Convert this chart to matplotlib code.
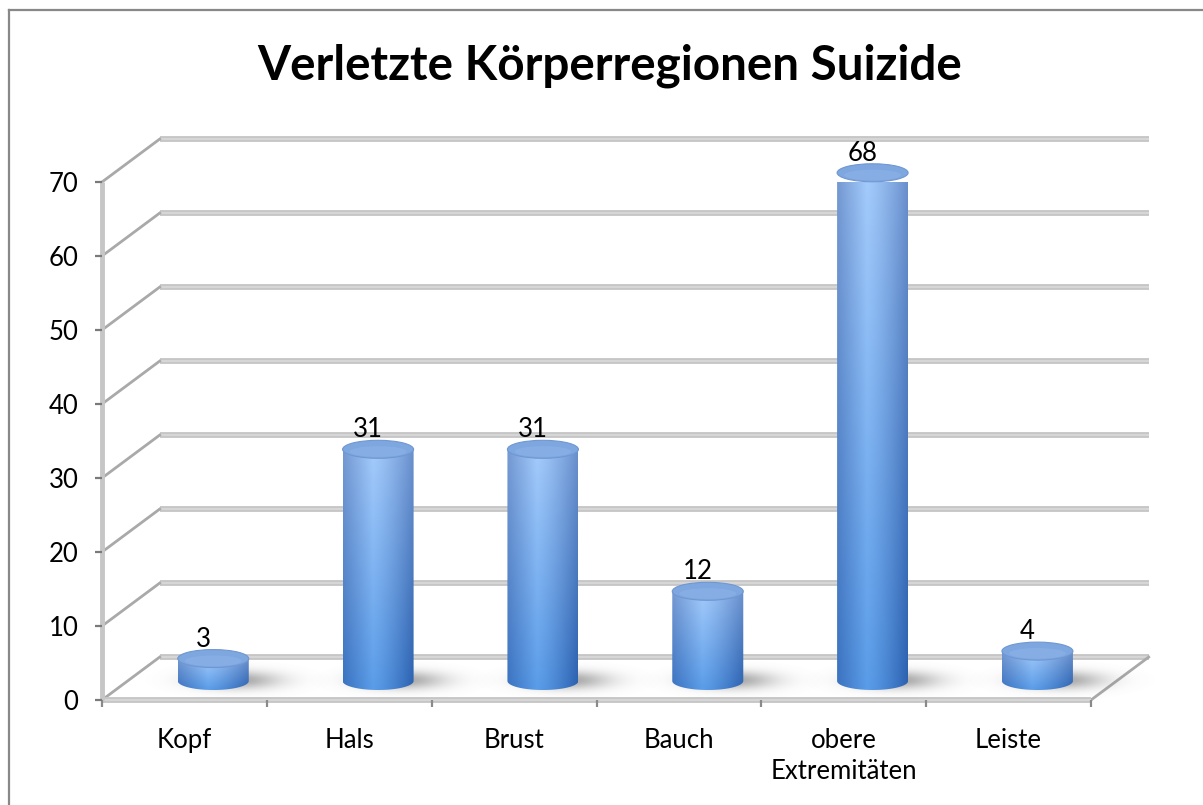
import numpy as np
import matplotlib
matplotlib.use('Agg')
import matplotlib.pyplot as plt
from matplotlib.patches import Ellipse, PathPatch
from matplotlib.path import Path
from matplotlib.lines import Line2D

# ---- data ----
categories = ['Kopf', 'Hals', 'Brust', 'Bauch', 'obere\nExtremitäten', 'Leiste']
values = [3, 31, 31, 12, 68, 4]
y_ticks = [0, 10, 20, 30, 40, 50, 60, 70]
title = 'Verletzte Körperregionen Suizide'

W, H = 1203, 805
FONT = ['Lato', 'DejaVu Sans']
plt.rcParams['font.family'] = FONT

fig = plt.figure(figsize=(W / 100, H / 100), dpi=100)
fig.patch.set_facecolor('white')
ax = fig.add_axes([102 / W, (H - 700) / H, (1091 - 102) / W, (700 - 182) / H])
ax.set_facecolor('none')
n = len(categories)
XMIN, XMAX = -0.5, n - 0.5
YMIN, YMAX = 0, 70

# 3D depth offsets (category units, value units)
DX, DY = 0.35, 5.8
PX_X = (1091 - 102) / (XMAX - XMIN)   # px per category unit
PX_Y = (700 - 182) / (YMAX - YMIN)    # px per value unit

grid_c = '#c6c6c6'
diag_c = '#a9a9a9'

# back wall grid lines and left side diagonals
for v in y_ticks:
    ax.plot([XMIN + DX, XMAX + DX], [v + DY, v + DY], color=grid_c, lw=4.2,
            solid_capstyle='butt', clip_on=False, zorder=1)
    ax.plot([XMIN + DX, XMAX + DX], [v + DY, v + DY], color='#d6d6d6', lw=1.5,
            solid_capstyle='butt', clip_on=False, zorder=1)
    ax.plot([XMIN, XMIN + DX], [v, v + DY], color=diag_c, lw=2.0,
            clip_on=False, zorder=1)
# floor right diagonal
ax.plot([XMAX, XMAX + DX], [0, DY], color=diag_c, lw=2.0, clip_on=False, zorder=1)

# front floor edge and front y-axis
ax.plot([XMIN, XMAX], [0, 0], color=grid_c, lw=4.2, solid_capstyle='butt',
        clip_on=False, zorder=1.5)
ax.plot([XMIN, XMAX], [0, 0], color='#d6d6d6', lw=1.5, solid_capstyle='butt',
        clip_on=False, zorder=1.5)
ax.plot([XMIN, XMIN], [0, YMAX], color=grid_c, lw=3.5, solid_capstyle='butt',
        clip_on=False, zorder=1.5)

# ---- cylinders ----
R = 35.5 / PX_X          # half width
EH = 9.0 / PX_Y          # ellipse semi-height
BASE = 19.0 / PX_Y       # base centre height (mid depth)
SCALE = 1.01


def hex2rgb(h):
    h = h.lstrip('#')
    return np.array([int(h[i:i + 2], 16) / 255 for i in (0, 2, 4)])


def profile(t, left, peak, right, tp=0.42):
    left, peak, right = hex2rgb(left), hex2rgb(peak), hex2rgb(right)
    out = np.empty(t.shape + (3,))
    m = t <= tp
    a = (t[m] / tp)[:, None]
    out[m] = left * (1 - a) + peak * a
    b = ((t[~m] - tp) / (1 - tp))[:, None]
    b = b ** 1.3
    out[~m] = peak * (1 - b) + right * b
    return out


nx = 120
tx = np.linspace(0, 1, nx)
top_prof = profile(tx, '#7599d2', '#a4cbfb', '#6a90cc')
bot_prof = profile(tx, '#3a72c0', '#5a9ce8', '#2b61b0')

for i, v in enumerate(values):
    cx = i + DX / 2
    top = BASE + v * SCALE

    # soft shadow on floor
    sx0, sx1 = cx - 2.4 * R, cx + 3.6 * R
    sy0, sy1 = BASE - 3.2 * EH, BASE + 3.2 * EH
    gx = np.linspace(sx0, sx1, 180)
    gy = np.linspace(sy0, sy1, 90)
    XX, YY = np.meshgrid(gx, gy)
    d = ((XX - (cx + 0.7 * R)) / (2.1 * R)) ** 2 + ((YY - (BASE + 0.1 * EH)) / (1.8 * EH)) ** 2
    alpha = 0.62 * np.exp(-3.2 * d) * (d < 1.6)
    sh = np.zeros(XX.shape + (4,))
    sh[..., :3] = 0.45
    sh[..., 3] = alpha
    ax.imshow(sh, extent=(sx0, sx1, sy0, sy1), origin='lower', aspect='auto',
              interpolation='bilinear', zorder=2, clip_on=False)

    # body gradient clipped to cylinder outline
    ny = 200
    fy = np.linspace(0, 1, ny)[:, None, None]
    img = bot_prof[None, :, :] * (1 - fy) + top_prof[None, :, :] * fy
    theta = np.linspace(np.pi, 2 * np.pi, 60)
    bx = cx + R * np.cos(theta)
    by = BASE + EH * np.sin(theta)
    verts = [(cx - R, top)] + list(zip(bx, by)) + [(cx + R, top), (cx - R, top)]
    codes = [Path.MOVETO] + [Path.LINETO] * (len(verts) - 2) + [Path.CLOSEPOLY]
    outline = PathPatch(Path(verts, codes), facecolor='none', edgecolor='none',
                        transform=ax.transData)
    ax.add_patch(outline)
    im = ax.imshow(img, extent=(cx - R, cx + R, BASE - EH, top), origin='lower',
                   aspect='auto', interpolation='bilinear', zorder=3, clip_on=True)
    im.set_clip_path(outline)

    # top face
    ax.add_patch(Ellipse((cx, top), 2 * R, 2 * EH, facecolor='#7ea6df',
                         edgecolor='#6f97d2', lw=0.8, zorder=4, clip_on=False))
    ax.add_patch(Ellipse((cx, top - 0.25 * EH), 1.6 * R, 1.2 * EH, facecolor='#8cb3e8',
                         edgecolor='none', alpha=0.6, zorder=4, clip_on=False))

    # value label
    ax.text(cx - 10 / PX_X, top + EH + 3 / PX_Y, str(v), ha='center', va='baseline',
            fontsize=18.5, color='black', zorder=5, clip_on=False)

ax.set_xlim(XMIN, XMAX)
ax.set_ylim(YMIN, YMAX)

# ---- axes / ticks ----
for s in ax.spines.values():
    s.set_visible(False)
ax.set_yticks(y_ticks)
ax.set_yticklabels([str(t) for t in y_ticks])
ax.tick_params(axis='y', direction='out', length=5, width=1.6, color='#7a7a7a',
               pad=12, labelsize=18.5, labelcolor='black')
ax.set_xticks(np.arange(XMIN, XMAX + 0.01, 1.0))
ax.set_xticklabels([])
ax.tick_params(axis='x', which='major', direction='out', length=5, width=1.6,
               color='#8a8a8a')
ax.set_xticks(np.arange(n), minor=True)
ax.set_xticklabels(categories, minor=True, linespacing=1.3)
ax.tick_params(axis='x', which='minor', length=0, pad=20, labelsize=18.5,
               labelcolor='black')

# title
fig.text(610 / W, 1 - 80 / H, title, ha='center', va='baseline', fontsize=34.3,
         fontweight='bold', color='black')

# chart border (left and top visible)
fig.add_artist(Line2D([9 / W, 9 / W], [0, 1 - 10 / H], color='#888888', lw=1.6,
                      transform=fig.transFigure))
fig.add_artist(Line2D([9 / W, 1], [1 - 10 / H, 1 - 10 / H], color='#888888', lw=1.6,
                      transform=fig.transFigure))

fig.savefig('out.png', dpi=100)
